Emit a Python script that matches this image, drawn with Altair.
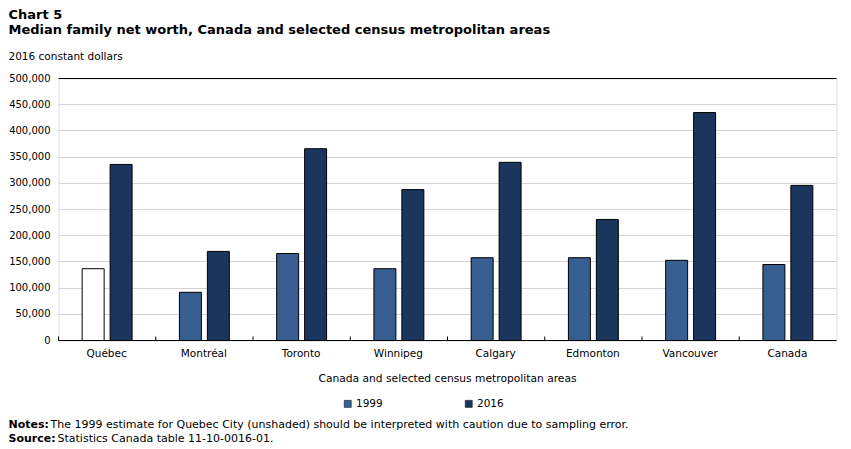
import altair as alt
import pandas as pd

# ---- data ----
cities = ["Québec", "Montréal", "Toronto", "Winnipeg", "Calgary", "Edmonton", "Vancouver", "Canada"]
years = ["1999", "2016"]
net_1999 = [137000, 92000, 166000, 137000, 158000, 158000, 153000, 145000]
net_2016 = [336000, 170000, 366000, 288000, 340000, 231000, 435000, 296000]
y_ticks = [0, 50000, 100000, 150000, 200000, 250000, 300000, 350000, 400000, 450000, 500000]

title_lines = ["Chart 5", "Median family net worth, Canada and selected census metropolitan areas"]
y_title = "2016 constant dollars"
x_title = "Canada and selected census metropolitan areas"
note_labels = ["Notes:", "Source:"]
note_texts = [
    "The 1999 estimate for Quebec City (unshaded) should be interpreted with caution due to sampling error.",
    "Statistics Canada table 11-10-0016-01.",
]
colors = ["#365E91", "#1A365D"]

rows = []
for c, a, b in zip(cities, net_1999, net_2016):
    rows.append({"city": c, "year": years[0], "value": a})
    rows.append({"city": c, "year": years[1], "value": b})
df = pd.DataFrame(rows)

W, H = 778, 262
FONT = "DejaVu Sans"
FS = 10.5

x_axis = alt.Axis(
    title=x_title, labelAngle=0, ticks=False, tickSize=0, domain=False, grid=False,
    labelPadding=8, titlePadding=15, labelFontSize=FS, titleFontSize=10.7,
    titleFontWeight="normal", labelColor="black", titleColor="black",
    labelFont=FONT, titleFont=FONT, translate=0,
)
x_scale = alt.Scale(paddingInner=0, paddingOuter=0)

grid_color = {
    "condition": {"test": "datum.value === 0 || datum.value === 500000", "value": "black"},
    "value": "#d4d4d4",
}

bars = alt.Chart(df).mark_bar(stroke="black", strokeWidth=1).encode(
    x=alt.X("city:N", sort=cities, scale=x_scale, axis=x_axis),
    xOffset=alt.XOffset("year:N", sort=years,
                        scale=alt.Scale(paddingInner=0.2143, paddingOuter=0.846)),
    y=alt.Y("value:Q", scale=alt.Scale(domain=[0, 500000], nice=False),
            axis=alt.Axis(values=y_ticks, format=",d", title=y_title, titleAngle=0,
                          titleX=-50, titleY=-19, titleAlign="left",
                          titleBaseline="alphabetic", titleFontWeight="normal",
                          titleFontSize=FS, labelFontSize=10, labelPadding=8,
                          ticks=False, tickSize=0, domain=False, grid=True,
                          gridColor=grid_color, gridWidth=1, translate=0,
                          labelColor="black", titleColor="black",
                          labelFont=FONT, titleFont=FONT)),
    color=alt.condition(
        "datum.city === 'Québec' && datum.year === '1999'",
        alt.value("white"),
        alt.Color("year:N", sort=years,
                  scale=alt.Scale(domain=years, range=colors),
                  legend=alt.Legend(title=None, orient="none", legendX=284, legendY=320,
                                    direction="horizontal", symbolType="square",
                                    symbolSize=50, labelFontSize=FS, labelFont=FONT,
                                    labelColor="black", columnPadding=80, labelOffset=3,
                                    symbolStrokeColor="black", symbolStrokeWidth=0.5)),
    ),
)

tick_df = pd.DataFrame({"city": cities})
ticks = alt.Chart(tick_df).mark_rule(color="black", strokeWidth=1).encode(
    x=alt.X("city:N", sort=cities, scale=x_scale, axis=x_axis, bandPosition=0),
    y=alt.value(H),
    y2=alt.value(H - 4),
)


def text_layer(s, x, y, bold):
    return alt.Chart(pd.DataFrame({"t": [s]})).mark_text(
        align="left", baseline="alphabetic", font=FONT, fontSize=11,
        fontWeight="bold" if bold else "normal", color="black",
    ).encode(text="t:N", x=alt.value(x), y=alt.value(y))


notes = [
    text_layer(note_labels[0], -50, 349, True),
    text_layer(note_texts[0], -8, 349, False),
    text_layer(note_labels[1], -50, 363, True),
    text_layer(note_texts[1], -1, 363, False),
]

chart = alt.layer(bars, ticks, *notes).properties(
    width=W,
    height=H,
    autosize=alt.AutoSizeParams(type="none"),
    padding={"left": 50.5, "top": 70.5, "right": 5, "bottom": 108},
    title=alt.TitleParams(
        text=title_lines, anchor="start", frame="group", dx=-50, fontSize=13,
        font=FONT, fontWeight="bold", lineHeight=15, offset=15, color="black",
    ),
).configure_view(stroke="black", strokeWidth=1).configure(background="white")

chart.save("out.html", embed_options={"renderer": "svg", "actions": False})
